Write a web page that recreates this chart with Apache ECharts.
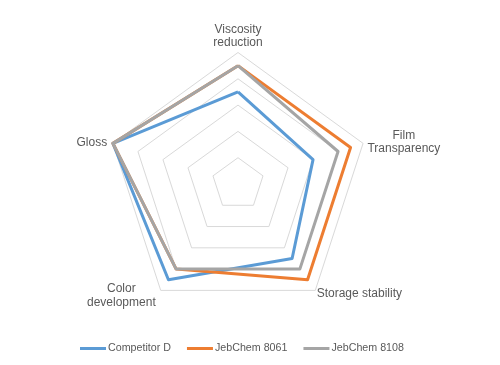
<!DOCTYPE html>
<html>
<head>
<meta charset="utf-8">
<script src="https://cdn.jsdelivr.net/npm/echarts@6/dist/echarts.min.js"></script>
<style>html,body{margin:0;padding:0;background:#fff;}#chart{width:500px;height:365px;}</style>
</head>
<body>
<div id="chart"></div>
<script>
// Categories in clockwise order starting at the top
var categories = ['Viscosity\nreduction', 'Film\nTransparency', 'Storage stability', 'Color\ndevelopment', 'Gloss'];
var seriesNames = ['Competitor D', 'JebChem 8061', 'JebChem 8108'];
var competitorD = [7, 6, 7, 9, 10];
var jebChem8061 = [9, 9, 9, 8, 10];
var jebChem8108 = [9, 8, 8, 8, 10];
var axisMax = 10;
var colors = ['#5B9BD5', '#ED7D31', '#A5A5A5'];

// ECharts radar runs counterclockwise; reorder to keep the clockwise layout
var order = [0, 4, 3, 2, 1];
function reorder(arr) { return order.map(function (i) { return arr[i]; }); }

var richKeys = {
  'Viscosity\nreduction': 'v',
  'Film\nTransparency': 'f',
  'Storage stability': 's',
  'Color\ndevelopment': 'c',
  'Gloss': 'g'
};

var chart = echarts.init(document.getElementById('chart'));
var allData = [competitorD, jebChem8061, jebChem8108];
chart.setOption({
  backgroundColor: '#ffffff',
  animation: false,
  color: colors,
  legend: {
    left: 75,
    top: 338,
    itemWidth: 26,
    itemHeight: 3,
    itemGap: 16,
    icon: 'rect',
    textStyle: { color: '#595959', fontSize: 10.7, fontFamily: 'Liberation Sans, Arial, sans-serif', padding: [0, 0, 0, -3] },
    data: seriesNames
  },
  radar: {
    center: [238, 184],
    radius: 131.5,
    shape: 'polygon',
    splitNumber: 5,
    nameGap: 4,
    indicator: reorder(categories).map(function (c) { return { name: c, min: 0, max: axisMax }; }),
    axisName: {
      color: '#595959',
      fontSize: 12,
      fontFamily: 'Liberation Sans, Arial, sans-serif',
      lineHeight: 14,
      formatter: function (name) {
        var k = richKeys[name] || 'g';
        return name.split('\n').map(function (l) { return '{' + k + '|' + l + '}'; }).join('\n');
      },
      rich: {
        v: { fontSize: 12, color: '#595959', lineHeight: 12.5, align: 'center' },
        f: { fontSize: 12, color: '#595959', lineHeight: 13.5, width: 74, align: 'center' },
        s: { fontSize: 12, color: '#595959', lineHeight: 14, padding: [0, 0, 0, -1] },
        c: { fontSize: 12, color: '#595959', lineHeight: 14, width: 70, align: 'center', padding: [5, 2, 0, 0] },
        g: { fontSize: 12, color: '#595959', lineHeight: 14, padding: [2, 2, 0, 0] }
      }
    },
    axisLine: { show: false },
    axisTick: { show: false },
    splitArea: { show: false },
    splitLine: { lineStyle: { color: '#d9d9d9', width: 1 } }
  },
  series: [{
    type: 'radar',
    symbol: 'none',
    lineStyle: { width: 3 },
    data: seriesNames.map(function (n, i) {
      return { name: n, value: reorder(allData[i]), lineStyle: { width: 3, color: colors[i] }, itemStyle: { color: colors[i] } };
    })
  }]
});
</script>
</body>
</html>
